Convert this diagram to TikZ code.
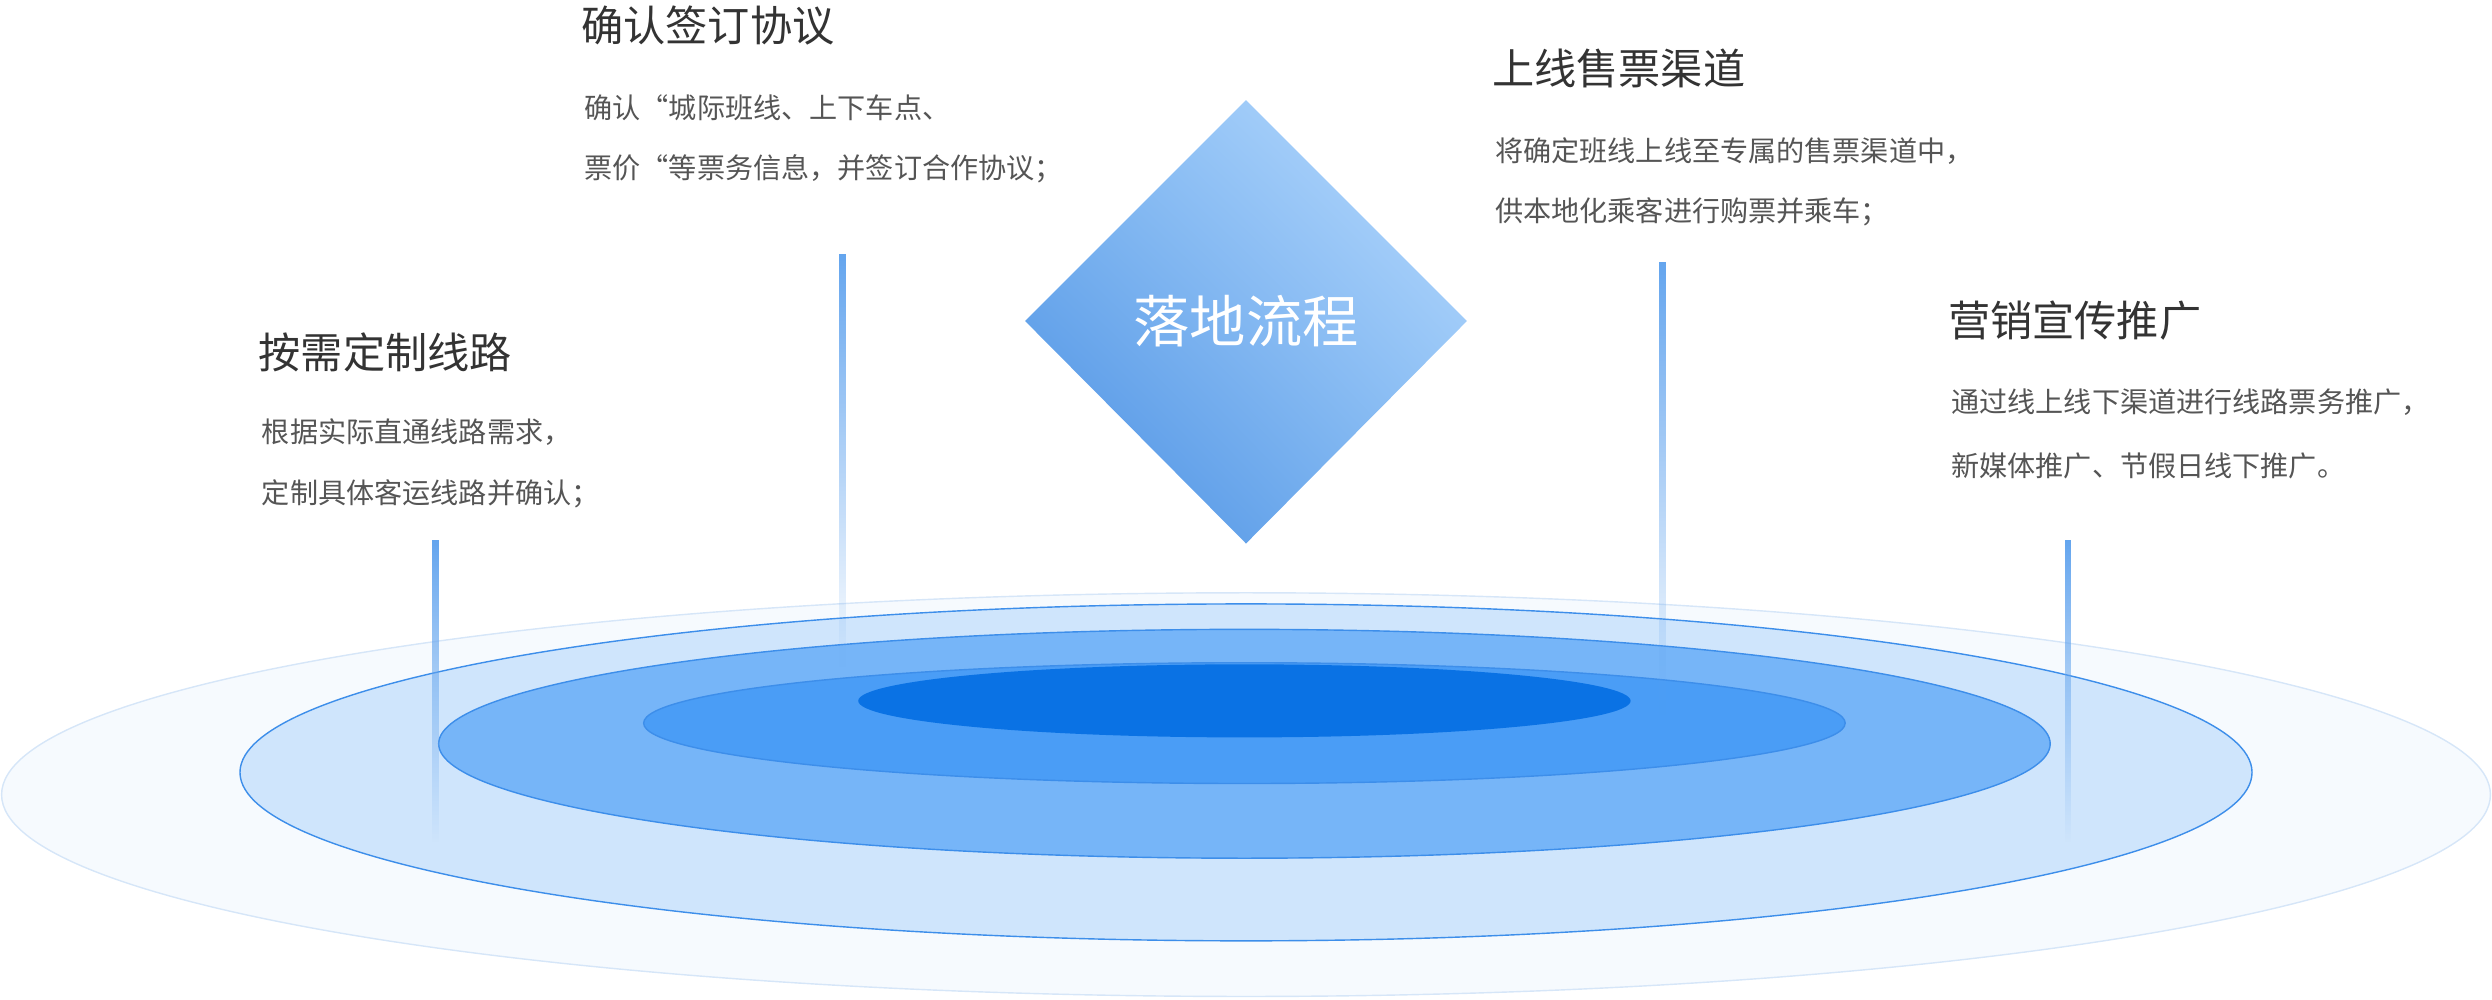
\documentclass[tikz,border=0pt]{standalone}
\usepackage{fontspec}
\setmainfont{Noto Sans CJK SC}
\usetikzlibrary{fadings,shadings}
\definecolor{ringedge}{HTML}{3D8EEA}
\definecolor{ringa}{HTML}{F6FAFE}
\definecolor{ringaedge}{HTML}{D6E6F8}
\definecolor{ringb}{HTML}{CFE5FC}
\definecolor{ringc}{HTML}{76B5F8}
\definecolor{ringd}{HTML}{4A9DF6}
\definecolor{ringe}{HTML}{0A72E4}
\definecolor{diamlo}{HTML}{468CE2}
\definecolor{diammid}{HTML}{82B9F2}
\definecolor{diamhi}{HTML}{BEDEFF}
\definecolor{titlegray}{HTML}{333333}
\definecolor{bodygray}{HTML}{555555}
\begin{document}
\begin{tikzpicture}[x=0.01589cm,y=-0.01589cm]

\tikzset{title/.style = {anchor=west, text=titlegray, font=\fontsize{12}{14}\selectfont}}
\tikzset{body/.style = {anchor=west, text=bodygray, font=\fontsize{8}{10}\selectfont}}
\tikzset{stem/.style = {fill=ringedge!80, path fading=south}}
\useasboundingbox (0,0) rectangle (1568,629);
%rings
\draw[fill=ringa, draw=ringaedge] (784,500) ellipse [x radius=783, y radius=127];
\draw[fill=ringb, draw=ringedge] (784,486) ellipse [x radius=633, y radius=106];
\draw[fill=ringc, draw=ringedge] (783,468) ellipse [x radius=507, y radius=72];
\draw[fill=ringd, draw=ringedge] (783,455) ellipse [x radius=378, y radius=38];
\fill[ringe] (783,441) ellipse [x radius=243, y radius=23];
%stems
\fill[stem] (272,340) rectangle (276,530);
\fill[stem] (528,160) rectangle (532,420);
\fill[stem] (1044,165) rectangle (1048,450);
\fill[stem] (1299,340) rectangle (1303,530);
%diamond
\shade[lower left=diamlo, upper right=diamhi, lower right=diammid, upper left=diammid]
  (784,63) -- (923,202) -- (784,342) -- (645,202) -- cycle;
\node[text=white, font=\fontsize{16}{18}\selectfont] (center) at (784,202) {落地流程};
%texts
\node[title] (t1) at (155,222) {按需定制线路};
\node[body] (b1a) at (157,272) {根据实际直通线路需求，};
\node[body] (b1b) at (157,311) {定制具体客运线路并确认；};
\node[title] (t2) at (358,16) {确认签订协议};
\node[body] (b2a) at (360,68) {确认“城际班线、上下车点、};
\node[body] (b2b) at (360,106) {票价“等票务信息，并签订合作协议；};
\node[title] (t3) at (931,43) {上线售票渠道};
\node[body] (b3a) at (933,95) {将确定班线上线至专属的售票渠道中，};
\node[body] (b3b) at (933,133) {供本地化乘客进行购票并乘车；};
\node[title] (t4) at (1218,202) {营销宣传推广};
\node[body] (b4a) at (1220,253) {通过线上线下渠道进行线路票务推广，};
\node[body] (b4b) at (1220,293) {新媒体推广、节假日线下推广。};

\end{tikzpicture}
\end{document}
